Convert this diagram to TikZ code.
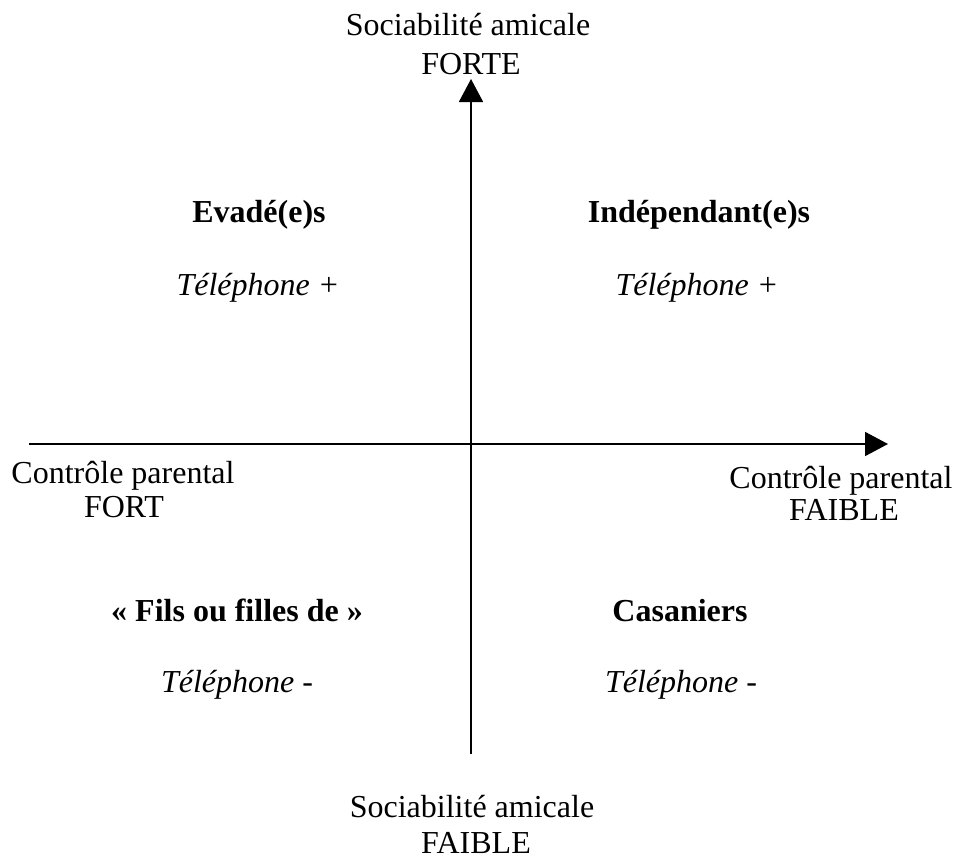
\documentclass[tikz,border=0pt]{standalone}
\usepackage{fontspec}
\setmainfont{Liberation Serif}
\usetikzlibrary{arrows.meta}

\begin{document}
\begin{tikzpicture}
    [x=1pt,y=-1pt,every node/.style={inner sep=0pt,anchor=base,font=\fontsize{32}{38}\selectfont},
     axis/.style={line width=1.8pt,-{Triangle[length=23pt,width=24pt]}},
     group/.style={font=\fontsize{32}{38}\selectfont\bfseries},
     tel/.style={font=\fontsize{32}{38}\selectfont\itshape}]
    \useasboundingbox (0,0) rectangle (958,860);
    \coordinate (w) at (29,444);
    \coordinate (e) at (888,444);
    \coordinate (s) at (471,754);
    \coordinate (n) at (471,79);
    \draw[axis] (w) -- (e) ;
    \draw[axis] (s) -- (n) ;
    \node (soctop) at (468,35) {Sociabilité amicale};
    \node (forte) at (471,74) {FORTE};
    \node (socbot) at (472,817) {Sociabilité amicale};
    \node (faibley) at (476,853) {FAIBLE};
    \node (ctlleft) at (123,483) {Contrôle parental};
    \node (fort) at (124,517) {FORT};
    \node (ctlright) at (841,488) {Contrôle parental};
    \node (faiblex) at (844,520) {FAIBLE};
    \node[group] (evades) at (259,222) {Evadé(e)s};
    \node[tel] (telnw) at (258,295) {Téléphone +};
    \node[group] (indeps) at (699,222) {Indépendant(e)s};
    \node[tel] (telne) at (697,295) {Téléphone +};
    \node[group] (fils) at (237,621) {« Fils ou filles de »};
    \node[tel] (telsw) at (237,692) {Téléphone -};
    \node[group] (casaniers) at (680,621) {Casaniers};
    \node[tel] (telse) at (681,692) {Téléphone -};
\end{tikzpicture}
\end{document}
